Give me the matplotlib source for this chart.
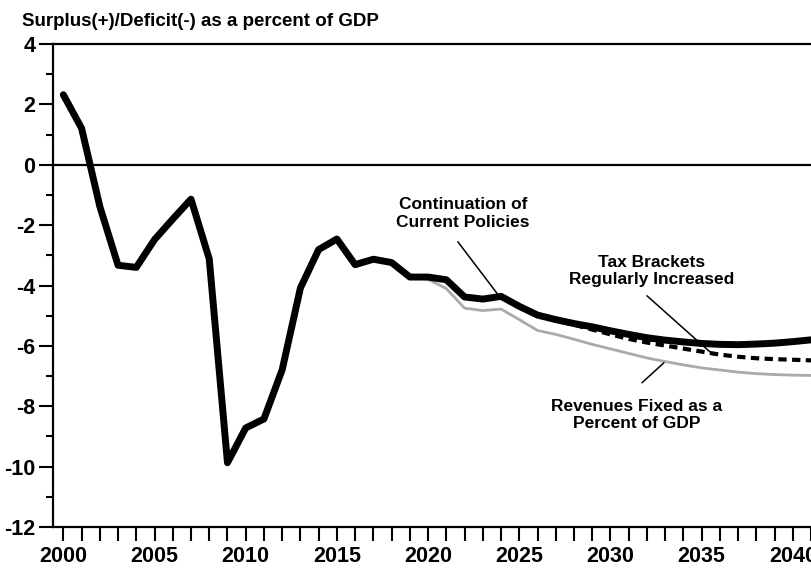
import matplotlib
matplotlib.use('Agg')
import matplotlib.pyplot as plt
import numpy as np
from matplotlib.ticker import MultipleLocator, FuncFormatter

plt.rcParams['font.family'] = ['Liberation Sans Narrow', 'Liberation Sans', 'DejaVu Sans']
plt.rcParams['font.weight'] = 'bold'

years = list(range(2000, 2042))
current_policies = [2.32, 1.21, -1.38, -3.33, -3.40, -2.48, -1.80, -1.14, -3.12, -9.87,
                    -8.72, -8.42, -6.79, -4.08, -2.81, -2.46, -3.31, -3.13, -3.24, -3.72,
                    -3.72, -3.81, -4.38, -4.45, -4.36, -4.69, -4.98, -5.13, -5.26, -5.37,
                    -5.50, -5.62, -5.73, -5.81, -5.87, -5.92, -5.95, -5.96, -5.94, -5.91,
                    -5.86, -5.80]

proj_years = list(range(2019, 2042))
brackets_increased = [-3.72, -3.72, -3.81, -4.38, -4.45, -4.36, -4.69, -4.98, -5.15, -5.30,
                      -5.46, -5.62, -5.77, -5.89, -5.99, -6.09, -6.19, -6.29, -6.36, -6.41,
                      -6.44, -6.46, -6.48]
revenues_fixed = [-3.72, -3.80, -4.10, -4.75, -4.83, -4.78, -5.13, -5.49, -5.62, -5.78,
                  -5.95, -6.10, -6.25, -6.40, -6.52, -6.63, -6.73, -6.80, -6.87, -6.92,
                  -6.95, -6.97, -6.98]

fig = plt.figure(figsize=(8.12, 5.71), dpi=100)
ax = fig.add_axes([53.3 / 812, 44 / 571, 1 - 53.3 / 812, 483 / 571])

ax.axhline(0, color='black', lw=1.6, zorder=1)
ax.plot(proj_years, revenues_fixed, color='#aaaaaa', lw=2.0, zorder=2)
ax.plot(proj_years, brackets_increased, color='black', lw=3.0, linestyle=(0, (2.0, 1.3)), zorder=3)
ax.plot(years, current_policies, color='black', lw=5.0, solid_joinstyle='round',
        solid_capstyle='round', zorder=4)

ax.set_xlim(1999.45, 2041.05)
ax.set_ylim(-12, 4)

ax.xaxis.set_major_locator(MultipleLocator(5))
ax.xaxis.set_minor_locator(MultipleLocator(1))
ax.yaxis.set_major_locator(MultipleLocator(2))
ax.yaxis.set_minor_locator(MultipleLocator(1))
ax.xaxis.set_major_formatter(FuncFormatter(lambda v, p: '%d' % v))
ax.yaxis.set_major_formatter(FuncFormatter(lambda v, p: '%d' % v))

ax.tick_params(axis='x', which='both', direction='out', length=10, width=1.5,
               labelsize=15.5, pad=4)
ax.tick_params(axis='y', which='major', direction='out', length=10, width=1.5,
               labelsize=15.5, pad=3)
ax.tick_params(axis='y', which='minor', direction='out', length=5, width=1.5)

for side in ['left', 'bottom', 'top']:
    ax.spines[side].set_linewidth(1.6)
ax.spines['right'].set_visible(False)

fig.text(22 / 812, 1 - 21 / 571, 'Surplus(+)/Deficit(-) as a percent of GDP',
         fontsize=13.5, ha='left', va='center')

# labels and leader lines
ax.text(2021.9, -1.62, 'Continuation of\nCurrent Policies', fontsize=12.5,
        ha='center', va='center', linespacing=1.2)
ax.annotate('', xy=(2023.83, -4.30), xytext=(2021.63, -2.55),
            arrowprops=dict(arrowstyle='-', lw=1.1, color='black', shrinkA=0, shrinkB=0))

ax.text(2032.28, -3.51, 'Tax Brackets\nRegularly Increased', fontsize=12.5,
        ha='center', va='center', linespacing=1.2)
ax.annotate('', xy=(2035.62, -6.29), xytext=(2032.0, -4.34),
            arrowprops=dict(arrowstyle='-', lw=1.1, color='black', shrinkA=0, shrinkB=0))

ax.text(2031.45, -8.28, 'Revenues Fixed as a\nPercent of GDP', fontsize=12.5,
        ha='center', va='center', linespacing=1.2)
ax.annotate('', xy=(2032.93, -6.56), xytext=(2031.73, -7.22),
            arrowprops=dict(arrowstyle='-', lw=1.1, color='black', shrinkA=0, shrinkB=0))

fig.savefig('out.png', dpi=100)
